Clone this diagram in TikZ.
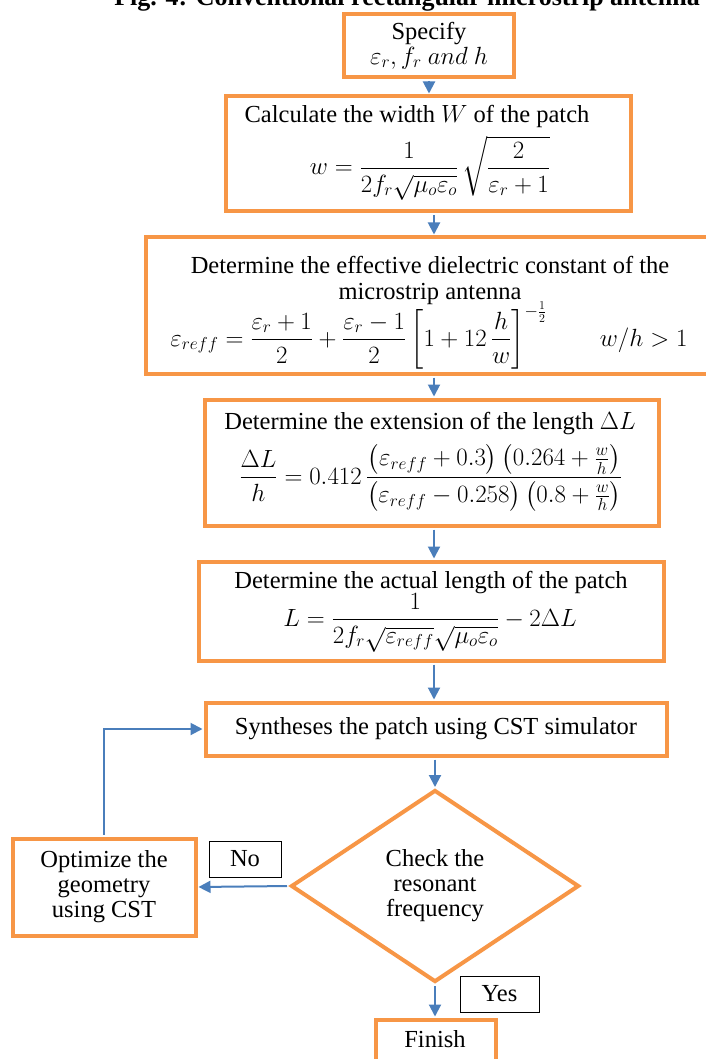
\documentclass[tikz,border=0pt]{standalone}
\usepackage{amsmath}
\usepackage{fontspec}
\setmainfont{Liberation Serif}
\usetikzlibrary{arrows.meta,shapes.geometric}
\definecolor{boxorange}{HTML}{F79646}
\definecolor{flowblue}{HTML}{4A7EBB}
\tikzset{
  stepbox/.style={draw=boxorange, line width=4pt, rectangle, inner sep=0pt, align=center},
  flow/.style={draw=flowblue, line width=2pt, -{Triangle[length=12pt,width=12pt]},
               shorten >=1pt, shorten <=2pt},
  tag/.style={draw=black, line width=1pt, inner sep=0pt},
  txt/.style={inner sep=0pt, anchor=base},
}
\begin{document}
\begin{tikzpicture}[x=1pt, y=-1pt, font=\fontsize{24.5}{25}\selectfont]
\useasboundingbox (0,0) rectangle (706,1059);
\clip (0,0) rectangle (706,1059);

% caption above the chart (only its lower edge lies inside the frame)
\node[inner sep=0pt, anchor=base east, font=\fontsize{26}{27}\selectfont\bfseries]
  (caption) at (700,5.5) {Fig. 4: Conventional rectangular microstrip antenna};

% process boxes
\node[stepbox, minimum width=170pt, minimum height=63pt] (spec) at (429,45.5)
  {Specify\\$\varepsilon_r, f_r\ and\ h$};
\node[stepbox, minimum width=405pt, minimum height=115pt] (calc) at (428,154) {};
\node[stepbox, minimum width=573pt, minimum height=136pt] (eff) at (432,305.5) {};
\node[stepbox, minimum width=454pt, minimum height=126pt] (ext) at (431.5,462.5) {};
\node[stepbox, minimum width=465pt, minimum height=99pt] (act) at (431,611) {};
\node[stepbox, minimum width=461pt, minimum height=53pt] (syn) at (436,729)
  {Syntheses the patch using CST simulator};
\node[draw=boxorange, line width=4pt, shape=diamond, inner sep=0pt, align=center,
      minimum width=288pt, minimum height=192pt] (check) at (435,886)
  {Check the\\resonant\\frequency};
\node[stepbox, minimum width=183pt, minimum height=97pt] (opt) at (104,887)
  {Optimize the\\geometry\\using CST};
\node[stepbox, minimum width=120pt, minimum height=59pt] (fin) at (435.5,1049) {};
\node[txt] (fintext) at (435,1047) {Finish};

% box contents
\node[txt] (calctitle) at (417,123) {Calculate the width $W$ of the patch};
\node[txt] (calcform) at (430,175)
  {$\displaystyle w=\frac{1}{2f_r\sqrt{\mu_o\varepsilon_o}}\,\sqrt{\frac{2}{\varepsilon_r+1}}$};

\node[txt] (efftitle) at (430,273) {Determine the effective dielectric constant of the};
\node[txt] (efftitleb) at (430,299) {microstrip antenna};
\node[txt] (effform) at (429,346)
  {$\displaystyle \varepsilon_{reff}=\frac{\varepsilon_r+1}{2}+\frac{\varepsilon_r-1}{2}
   \left[1+12\,\frac{h}{w}\right]^{-\frac{1}{2}}\qquad w/h>1$};

\node[txt] (exttitle) at (430,429) {Determine the extension of the length $\Delta L$};
\node[txt] (extform) at (431,484)
  {$\displaystyle \frac{\Delta L}{h}=0.412\,
   \frac{\left(\varepsilon_{reff}+0.3\vphantom{\frac{w}{h}}\right)\left(0.264+\frac{w}{h}\right)}
        {\left(\varepsilon_{reff}-0.258\vphantom{\frac{w}{h}}\right)\left(0.8+\frac{w}{h}\right)}$};

\node[txt] (acttitle) at (431,588) {Determine the actual length of the patch};
\node[txt] (actform) at (430,626)
  {$\displaystyle L=\frac{1}{2f_r\sqrt{\varepsilon_{reff}}\sqrt{\mu_o\varepsilon_o}}-2\Delta L$};

% decision labels
\node[tag, minimum width=72pt, minimum height=36pt] (no) at (245,859) {No};
\node[tag, minimum width=79pt, minimum height=36pt] (yes) at (499.5,994) {Yes};

% connectors
\coordinate (col) at (434,0);
\draw[flow] (spec.south) -- (calc.north -| spec);
\draw[flow] (calc.south -| col) -- (eff.north -| col);
\draw[flow] (eff.south -| col) -- (ext.north -| col);
\draw[flow] (ext.south -| col) -- (act.north -| col);
\draw[flow] (act.south -| col) -- (syn.north -| col);
\draw[flow] (syn.south -| check) -- (check.north);
\draw[flow] (check.south) -- (fin.north -| check);
\draw[flow] (check.west) -- (opt.east);
\draw[flow] (opt.north) |- (syn.west);
\end{tikzpicture}
\end{document}
